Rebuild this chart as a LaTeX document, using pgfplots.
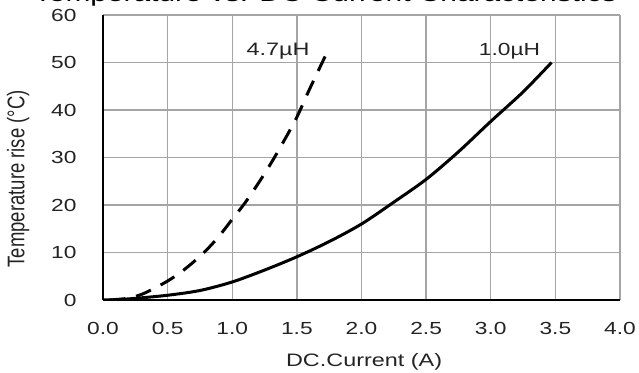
\documentclass[border=0pt]{standalone}
\usepackage{fontspec}
\setmainfont[FakeStretch=1.3]{Liberation Sans}
\newfontfamily\ylabfont{Liberation Sans}
\usepackage{graphicx}
\usepackage{pgfplots}
\pgfplotsset{compat=1.18}
\definecolor{gridgray}{RGB}{165,165,165}
\definecolor{txt}{RGB}{35,35,35}
\begin{document}
\begin{tikzpicture}
\begin{axis}[
  scale only axis, width=517pt, height=285pt,
  xmin=0, xmax=4, ymin=0, ymax=60,
  xtick={0,0.5,1,1.5,2,2.5,3,3.5,4},
  ytick={0,10,20,30,40,50,60},
  axis x line*=bottom, axis y line*=left,
  axis line style={black, line width=2pt, -},
  grid=major, major grid style={gridgray, line width=1.4pt},
  major tick length=0pt,
  /pgf/number format/assume math mode=true,
  tick label style={font=\fontsize{17.5}{20}\selectfont, text=txt},
  xticklabel style={/pgf/number format/.cd, fixed, fixed zerofill, precision=1, /tikz/.cd, yshift=-19pt},
  yticklabel style={xshift=-23pt},
  title={Temperature vs. DC Current Characteristics},
  title style={font=\fontsize{23}{26}\selectfont, text=black, at={(axis description cs:0.43,1)}, anchor=base, yshift=8pt},
  xlabel={DC.Current (A)},
  xlabel style={font=\fontsize{18}{21}\selectfont, text=txt, at={(axis description cs:0.505,0)}, anchor=base, yshift=-66pt},
  ylabel={\scalebox{1}[1.3]{\ylabfont Temperature rise (°C)}},
  ylabel style={font=\fontsize{18.5}{21}\selectfont, text=txt, at={(axis description cs:-0.164,0.425)}, anchor=center},
]
\addplot[black, line width=3pt, smooth] coordinates {
(0,0) (0.1,0.05) (0.25,0.35) (0.5,1.0) (0.75,2.0) (1.0,3.8) (1.25,6.3) (1.5,9.1) (1.75,12.3) (2.0,16.0) (2.25,20.6) (2.5,25.4) (2.75,31.2) (3.0,37.6) (3.25,43.8) (3.47,50)
};
\addplot[black, line width=3pt, dash pattern=on 16pt off 11pt, smooth] coordinates {
(0.05,0) (0.1,0.1) (0.2,0.4) (0.3,1.2) (0.4,2.5) (0.5,4.0) (0.6,5.8) (0.7,8.0) (0.8,10.5) (0.9,13.5) (1.0,17.0) (1.1,20.5) (1.2,24.5) (1.3,28.8) (1.4,33.5) (1.5,38.5) (1.6,44.5) (1.74,52.5)
};
\node[font=\fontsize{18}{21}\selectfont, text=txt, anchor=base] at (axis cs:1.354,51.4) {4.7µH};
\node[font=\fontsize{17.5}{21}\selectfont, text=txt, anchor=base] at (axis cs:3.145,51.4) {1.0µH};
\end{axis}
\pgfresetboundingbox
\useasboundingbox (-103pt,-72pt) rectangle (536pt,300pt);
\end{tikzpicture}
\end{document}
